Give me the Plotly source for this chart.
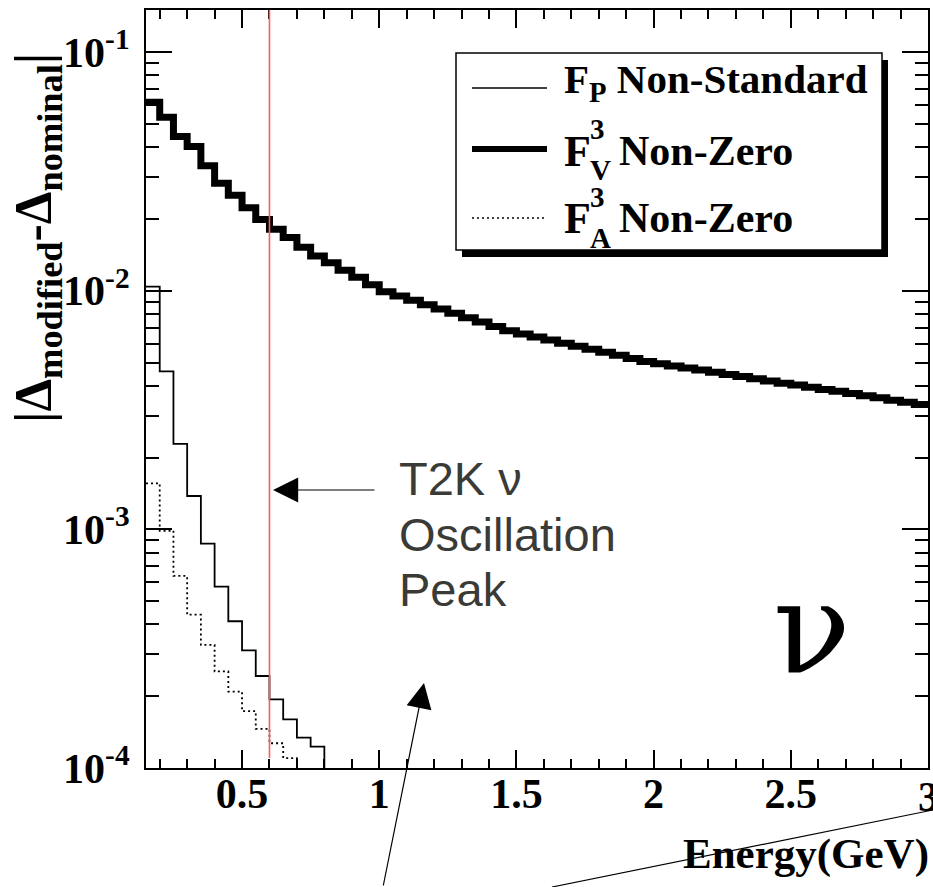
import plotly.graph_objects as go

# ---------------- data ----------------
E_MIN = 0.15      # lower edge of the first bin (GeV)
BIN_W = 0.05      # bin width (GeV)

# F_V^3 non-zero (thick)
fv3_nonzero = [0.0617, 0.0533, 0.0443, 0.0402, 0.0334, 0.0282, 0.0251, 0.0223,
               0.0199, 0.0181, 0.0167, 0.0152, 0.0140, 0.0131, 0.0122, 0.0114,
               0.0106, 0.0099, 0.00950, 0.00912, 0.00874, 0.00838, 0.00804,
               0.00771, 0.00740, 0.00708, 0.00679, 0.00659, 0.00640, 0.00621,
               0.00603, 0.00586, 0.00569, 0.00552, 0.00536, 0.00520, 0.00505,
               0.00494, 0.00484, 0.00474, 0.00465, 0.00455, 0.00446, 0.00437,
               0.00428, 0.00419, 0.00410, 0.00403, 0.00394, 0.00386, 0.00379,
               0.00371, 0.00363, 0.00356, 0.00348, 0.00341, 0.00334]
# F_P non-standard (thin solid)
fp_nonstandard = [0.0104, 0.00459, 0.00228, 0.00138, 0.000872, 0.000575,
                  0.000412, 0.000311, 0.000243, 0.000194, 0.000160, 0.000134,
                  0.000123, 0.000090]
# F_A^3 non-zero (dotted)
fa3_nonzero = [0.00156, 0.000987, 0.000638, 0.000439, 0.000328, 0.000254,
               0.000209, 0.000173, 0.000146, 0.000127, 0.000110, 0.000090]

T2K_PEAK = 0.6    # GeV

x_tickvals = [0.5, 1, 1.5, 2, 2.5, 3]
x_ticktext = ["0.5", "1", "1.5", "2", "2.5", ""]   # "3" is drawn separately (cut by the page edge)
x_edge_label = "3"
x_minor = [0.2, 0.3, 0.4, 0.6, 0.7, 0.8, 0.9, 1.1, 1.2, 1.3, 1.4, 1.6, 1.7, 1.8,
           1.9, 2.1, 2.2, 2.3, 2.4, 2.6, 2.7, 2.8, 2.9]
y_tickvals = [1e-4, 1e-3, 1e-2, 1e-1]
y_ticktext = ["10<sup>-4</sup>", "10<sup>-3</sup>", "10<sup>-2</sup>", "10<sup>-1</sup>"]
y_minor = [m * d for d in (1e-4, 1e-3, 1e-2) for m in range(2, 10)]

# ---------------- layout helpers ----------------
W, H = 933, 887
L, R, T, B = 146, 5, 10, 119
PW, PH = W - L - R, H - T - B


def px(x):
    return (x - L) / PW


def py(y):
    return (H - B - y) / PH


def steps(vals):
    edges = [round(E_MIN + BIN_W * i, 4) for i in range(len(vals) + 1)]
    return edges, list(vals) + [vals[-1]]


SERIF = "Liberation Serif"
SANS = "Liberation Sans"

fig = go.Figure()

ex, ey = steps(fp_nonstandard)
fig.add_trace(go.Scatter(x=ex, y=ey, mode="lines", line_shape="hv",
                         line=dict(color="black", width=1.8),
                         name="F_P Non-Standard", showlegend=False))
ex, ey = steps(fv3_nonzero)
fig.add_trace(go.Scatter(x=ex, y=ey, mode="lines", line_shape="hv",
                         line=dict(color="black", width=7),
                         name="F_V^3 Non-Zero", showlegend=False))
ex, ey = steps(fa3_nonzero)
fig.add_trace(go.Scatter(x=ex, y=ey, mode="lines", line_shape="hv",
                         line=dict(color="black", width=1.8, dash="2px,3px"),
                         name="F_A^3 Non-Zero", showlegend=False))

shapes = []
# T2K oscillation peak marker
shapes.append(dict(type="line", xref="x", yref="paper", x0=T2K_PEAK, x1=T2K_PEAK,
                   y0=py(758), y1=1, line=dict(color="#ff5c5c", width=1.6), layer="above"))
# legend shadow + box
shapes.append(dict(type="rect", xref="paper", yref="paper", x0=px(462), x1=px(888),
                   y0=py(257), y1=py(60), fillcolor="black", line=dict(width=0), layer="above"))
shapes.append(dict(type="rect", xref="paper", yref="paper", x0=px(456), x1=px(882),
                   y0=py(250), y1=py(53), fillcolor="white",
                   line=dict(color="black", width=1.5), layer="above"))
# legend samples
shapes.append(dict(type="line", xref="paper", yref="paper", x0=px(472), x1=px(547),
                   y0=py(88), y1=py(88), line=dict(color="black", width=1.5), layer="above"))
shapes.append(dict(type="line", xref="paper", yref="paper", x0=px(472), x1=px(547),
                   y0=py(149), y1=py(149), line=dict(color="black", width=6), layer="above"))
shapes.append(dict(type="line", xref="paper", yref="paper", x0=px(472), x1=px(547),
                   y0=py(218), y1=py(218), line=dict(color="black", width=1.5, dash="2px,3px"),
                   layer="above"))
# stray line at the bottom right
shapes.append(dict(type="line", xref="paper", yref="paper", x0=px(552), x1=px(933),
                   y0=py(887), y1=py(810), line=dict(color="black", width=1.2), layer="above"))

ann = []


def text(x, y, s, size, family=SERIF, bold=True, xanchor="left", color="black", angle=0,
         xref="paper"):
    ann.append(dict(xref=xref, yref="paper", x=x if xref != "paper" else px(x), y=py(y),
                    text=s, showarrow=False,
                    xanchor=xanchor, yanchor="middle", textangle=angle,
                    font=dict(family=family, size=size, color=color,
                              weight="bold" if bold else "normal")))


# legend text
text(562, 82, "F<sub>P</sub> Non-Standard", 41)
text(562, 151, "F", 44)
text(588, 129, "3", 29)
text(588, 170, "V", 29)
text(617, 151, "Non-Zero", 42)
text(562, 218, "F", 44)
text(588, 197, "3", 29)
text(588, 238, "A", 29)
text(617, 218, "Non-Zero", 42)

# T2K annotation text
text(397, 478, "T2K ν", 47, family=SANS, bold=False, color="#3a3a36")
text(397, 534, "Oscillation", 47, family=SANS, bold=False, color="#3a3a36")
text(397, 589, "Peak", 47, family=SANS, bold=False, color="#3a3a36")

# nu symbol
text(812, 628, "ν", 128, family="DejaVu Serif", bold=False, xanchor="center")

# tick label at the right edge of the x axis
text(x_tickvals[-1], 797, x_edge_label, 42, xanchor="center", xref="x")

# axis titles
text(931, 854, "Energy(GeV)", 43, xanchor="right")
text(37, 238, "|Δ<sub>modified</sub>-Δ<sub>nominal</sub>|", 52, xanchor="center", angle=-90)

# arrows
ann.append(dict(xref="paper", yref="paper", x=px(273), y=py(490), ax=103, ay=0,
                text="", showarrow=True, arrowhead=2, arrowsize=4.2, arrowwidth=1.2,
                arrowcolor="black", standoff=0))
ann.append(dict(xref="paper", yref="paper", x=px(424), y=py(683), ax=-41, ay=206,
                text="", showarrow=True, arrowhead=2, arrowsize=4.2, arrowwidth=1.2,
                arrowcolor="black", standoff=0))

tickfont = dict(family=SERIF, size=42, color="black", weight="bold")

fig.update_layout(
    width=W, height=H,
    margin=dict(l=L, r=R, t=T, b=B, pad=0, autoexpand=False),
    paper_bgcolor="white", plot_bgcolor="white",
    shapes=shapes, annotations=ann, showlegend=False,
    xaxis=dict(range=[E_MIN, 3.0], tickmode="array", tickvals=x_tickvals, ticktext=x_ticktext,
               ticks="inside", ticklen=18, tickwidth=1.5, tickcolor="black",
               minor=dict(tickmode="array", tickvals=x_minor, ticks="inside", ticklen=9,
                          tickwidth=1.5, tickcolor="black", showgrid=False),
               showline=True, linewidth=2, linecolor="black", mirror="ticks",
               showgrid=False, zeroline=False, tickfont=tickfont, ticklabelstandoff=-12,
               automargin=False),
    yaxis=dict(type="log", range=[-4, -0.8235], tickmode="array", tickvals=y_tickvals,
               ticktext=y_ticktext, ticks="inside", ticklen=26, tickwidth=1.5, tickcolor="black",
               minor=dict(tickmode="array", tickvals=y_minor, ticks="inside", ticklen=13,
                          tickwidth=1.5, tickcolor="black", showgrid=False),
               showline=True, linewidth=2, linecolor="black", mirror="ticks",
               showgrid=False, zeroline=False, tickfont=tickfont, ticklabelstandoff=6,
               automargin=False),
)

fig.write_html("out.html")
